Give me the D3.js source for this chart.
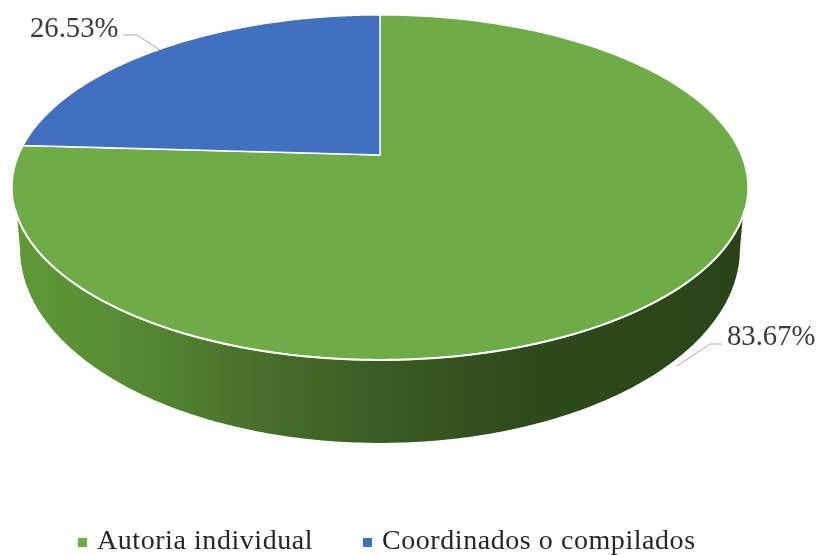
<!DOCTYPE html>
<html>

<head>
    <meta charset="utf-8">
    <style>
    html, body { margin: 0; padding: 0; background: #fff; }
    svg { display: block; filter: blur(0.45px); }
    text { font-family: "Liberation Serif", serif; }
    </style>
</head>

<body>
    <svg width="820" height="555"></svg>
    <script src="https://d3js.org/d3.v7.min.js"></script>
    <script>
    var categories = ["Autoria individual", "Coordinados o compilados"];
    var values = [83.67, 26.53];
    var valueLabels = ["83.67%", "26.53%"];
    var colors = ["#6fac47", "#4070bf"];

    var svg = d3.select("svg");
    var defs = svg.append("defs");

    // the pie is a circle seen in perspective, so its centre sits above the middle of the ellipse
    var k = 0.188;

    function project(cy, a, b) {
        return function(t) {
            var u = Math.sin(t), v = Math.cos(t), w = 1 + k * v;
            return [380 + b * u / w, cy - a * v / w];
        };
    }
    var topFace = project(155, 166.4, 361.4);
    var bottomFace = project(212.5, 187.1, 353.5);

    function sample(from, to) {
        return d3.range(0, 241).map(function(i) {
            return from + (to - from) * i / 240;
        });
    }
    var rad = Math.PI / 180;
    var line = d3.line();

    // side wall
    var shade = defs.append("linearGradient")
        .attr("id", "wall")
        .attr("gradientUnits", "userSpaceOnUse")
        .attr("x1", 15).attr("x2", 745).attr("y1", 0).attr("y2", 0);
    [[0, "#5f9a37"], [0.16, "#558a33"], [0.33, "#4a6f2b"], [0.5, "#3b5c24"], [0.7, "#2e4a1b"], [1, "#2c4319"]]
    .forEach(function(s) {
        shade.append("stop").attr("offset", s[0]).attr("stop-color", s[1]);
    });

    var wallPoints = sample(110 * rad, 250 * rad).map(topFace)
        .concat(sample(259 * rad, 101 * rad).map(bottomFace));
    svg.append("path")
        .attr("d", line(wallPoints) + "Z")
        .attr("fill", "url(#wall)");

    // top face, one path per slice
    var pie = d3.pie().sort(null);
    var slices = pie(values);

    svg.append("g").selectAll("path")
        .data(slices)
        .join("path")
        .attr("d", function(d) {
            return line([[380, 155]].concat(sample(d.startAngle, d.endAngle).map(topFace))) + "Z";
        })
        .attr("fill", function(d, i) { return colors[i]; })
        .attr("stroke", "#fff")
        .attr("stroke-width", 1.4)
        .attr("stroke-linejoin", "round");

    // brighter rim where the face meets the wall
    svg.append("path")
        .attr("d", line(sample(108 * rad, 252 * rad).map(topFace)))
        .attr("fill", "none")
        .attr("stroke", "#fff")
        .attr("stroke-width", 2);

    // leader lines
    var leaders = [
        [[722, 344], [710, 344], [677, 366]],
        [[123, 35], [137, 35], [160, 50]]
    ];
    svg.append("g").selectAll("path")
        .data(leaders)
        .join("path")
        .attr("d", function(d) { return line(d); })
        .attr("fill", "none")
        .attr("stroke", "#a6a6a6")
        .attr("stroke-width", 1);

    // value labels
    var labelPos = [[727, 345], [30, 37]];
    svg.append("g").selectAll("text")
        .data(valueLabels)
        .join("text")
        .attr("x", function(d, i) { return labelPos[i][0]; })
        .attr("y", function(d, i) { return labelPos[i][1]; })
        .attr("font-size", 28.7)
        .attr("fill", "#3a3a3a")
        .text(function(d) { return d; });

    // legend
    var legendX = [78, 363];
    var legend = svg.append("g").selectAll("g")
        .data(categories)
        .join("g")
        .attr("transform", function(d, i) { return "translate(" + legendX[i] + ",0)"; });
    legend.append("rect")
        .attr("y", 538).attr("width", 9).attr("height", 9)
        .attr("fill", function(d, i) { return colors[i]; });
    legend.append("text")
        .attr("x", 19).attr("y", 549)
        .attr("font-size", 28)
        .attr("letter-spacing", 0.56)
        .attr("fill", "#262626")
        .text(function(d) { return d; });
    </script>
</body>

</html>
